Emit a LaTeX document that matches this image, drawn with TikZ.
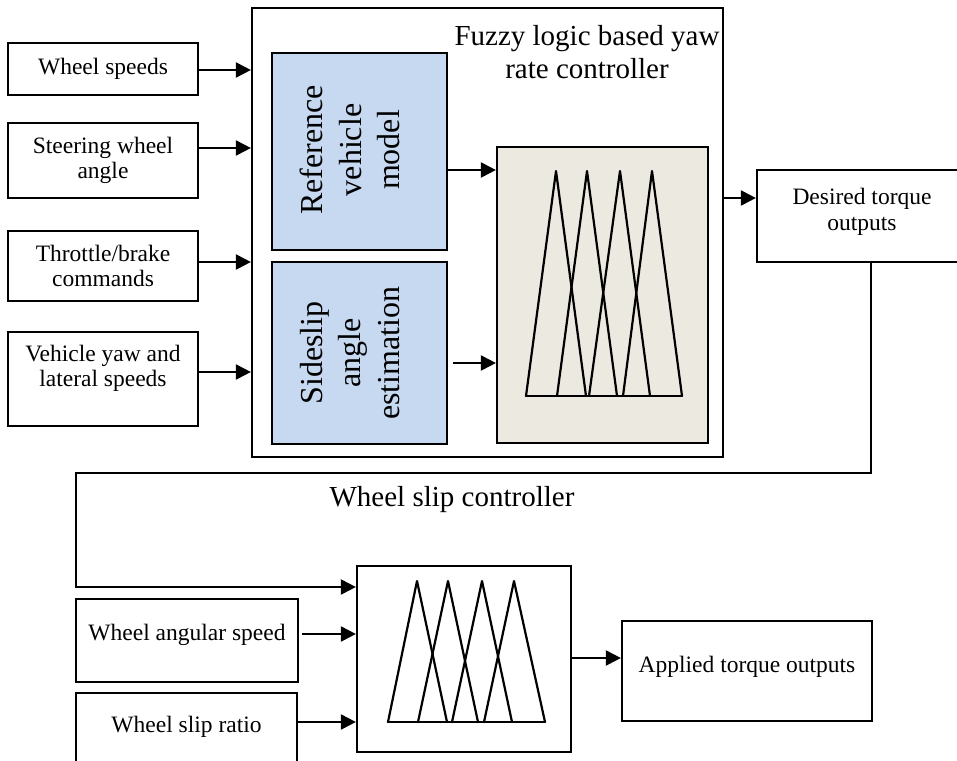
\documentclass[tikz,border=0pt]{standalone}
\usepackage{fontspec}
\setmainfont{Liberation Serif}
\usetikzlibrary{arrows.meta,calc}
\definecolor{blueboxc}{HTML}{C6D9F1}
\definecolor{beigec}{HTML}{ECEAE0}
\tikzset{
  box/.style={draw, line width=2.2pt, inner sep=0pt, align=center, font=\fontsize{23.5}{25}\selectfont},
  arr/.style={line width=2pt, -{Triangle[length=15pt,width=15pt]}},
  tri/.style={line width=2.2pt, line join=round, line cap=round},
  title/.style={align=center, font=\fontsize{29}{33}\selectfont},
  rottxt/.style={rotate=90, align=center, font=\fontsize{32}{38.5}\selectfont}
}
\begin{document}
\begin{tikzpicture}[x=1pt,y=-1pt]
\useasboundingbox (0,0) rectangle (957,760);
\clip (0,0) rectangle (957,760);
\fill[white] (0,0) rectangle (957,760);

% main yaw controller box
\node[box, minimum width=471pt, minimum height=449pt] (main) at (487.5,232.5) {};
\node[title] (ytitle) at (587,52) {Fuzzy logic based yaw\\rate controller};

% input boxes
\node[box, minimum width=190pt, minimum height=52pt] (ws) at (103,69) {Wheel speeds};
\node[box, minimum width=190pt, minimum height=75pt] (swa) at (103,160.5) {Steering wheel\\angle};
\node[box, minimum width=190pt, minimum height=70pt] (tb) at (103,266) {Throttle/brake\\commands};
\node[box, minimum width=190pt, minimum height=94pt] (vy) at (103,379) {};
\node[align=center, font=\fontsize{23.5}{25}\selectfont] (vytxt) at (103,368) {Vehicle yaw and\\lateral speeds};

\draw[arr] ([yshift=-1pt]ws.east) -- ([yshift=-1pt]ws.east -| main.west);
\draw[arr] ([yshift=12.5pt]swa.east) -- ([yshift=12.5pt]swa.east -| main.west);
\draw[arr] ([yshift=4pt]tb.east) -- ([yshift=4pt]tb.east -| main.west);
\draw[arr] ([yshift=7pt]vy.east) -- ([yshift=7pt]vy.east -| main.west);

% blue boxes
\node[box, fill=blueboxc, minimum width=175pt, minimum height=197pt] (ref) at (359.5,151.5) {};
\node[rottxt] (reftxt) at (350,150) {Reference\\vehicle\\model};
\node[box, fill=blueboxc, minimum width=175pt, minimum height=182pt] (side) at (359.5,353) {};
\node[rottxt] (sidetxt) at (350,353) {Sideslip\\angle\\estimation};

% fuzzy box
\node[box, fill=beigec, minimum width=211pt, minimum height=296pt] (fz) at (602.5,295) {};
\draw[tri] (526,396) -- (556,171) -- (586,396);
\draw[tri] (557,396) -- (587,171) -- (617,396);
\draw[tri] (589,396) -- (620,171) -- (650,396);
\draw[tri] (623,396) -- (652,171) -- (682,396);
\draw[tri] (526,396) -- (682,396);

\draw[arr] ([yshift=-18.5pt]ref.east) -- ([yshift=-18.5pt]ref.east -| fz.west);
\draw[arr] ([xshift=5pt,yshift=-10pt]side.east) -- ([yshift=-10pt]side.east -| fz.west);

% desired torque
\node[box, minimum width=228pt, minimum height=92pt] (des) at (871,216) {};
\node[align=center, font=\fontsize{23.5}{26.5}\selectfont] (destxt) at (862,212) {Desired torque\\outputs};
\draw[arr] ([yshift=18pt]des.west -| main.east) -- ([yshift=18pt]des.west);

% wheel slip controller
\node[title] (stitle) at (452,500) {Wheel slip controller};
\node[box, minimum width=214pt, minimum height=186pt] (slip) at (464,659) {};
\draw[tri] (388,722) -- (417,581) -- (447,722);
\draw[tri] (418,722) -- (448,581) -- (478,722);
\draw[tri] (452,722) -- (482,581) -- (512,722);
\draw[tri] (484,722) -- (514,581) -- (545,722);
\draw[tri] (388,722) -- (545,722);

\coordinate (k1) at (76,473);
\draw[arr] (des.south) |- (k1) |- ([yshift=72pt]slip.west);

\node[box, minimum width=222pt, minimum height=83pt] (was) at (187,640.5) {};
\node[font=\fontsize{23.5}{25}\selectfont] (wastxt) at (187,635) {Wheel angular speed};
\node[box, minimum width=221pt, minimum height=74pt] (wsr) at (186.5,730) {};
\node[font=\fontsize{23.5}{25}\selectfont] (wsrtxt) at (186.5,727) {Wheel slip ratio};

\draw[arr] ([xshift=3pt,yshift=6.5pt]was.east) -- ([yshift=6.5pt]was.east -| slip.west);
\draw[arr] ([yshift=8pt]wsr.east) -- ([yshift=8pt]wsr.east -| slip.west);

\node[box, minimum width=250pt, minimum height=100pt] (app) at (747,671) {};
\node[font=\fontsize{23.5}{25}\selectfont] (apptxt) at (747,667) {Applied torque outputs};
\draw[arr] ([yshift=1pt]slip.east) -- ([yshift=1pt]slip.east -| app.west);
\end{tikzpicture}
\end{document}
